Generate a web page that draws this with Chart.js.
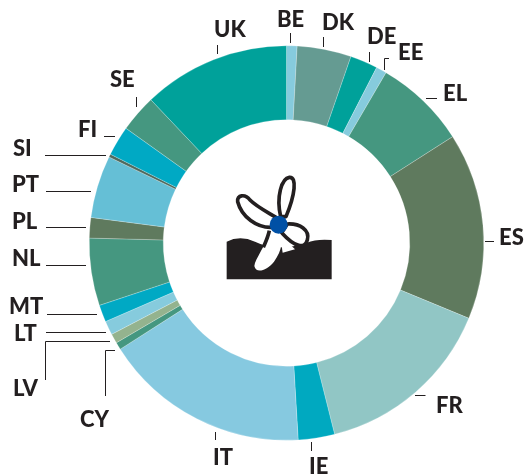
<!DOCTYPE html>
<html>
<head>
<meta charset="utf-8">
<style>html,body{margin:0;padding:0;background:#fff}canvas{display:block}</style>
<script src="https://cdn.jsdelivr.net/npm/chart.js@4"></script>
</head>
<body>
<canvas id="c" width="525" height="474"></canvas>
<script>
const countries = ['BE','DK','DE','EE','EL','ES','FR','IE','IT','CY','LV','LT','MT','NL','PL','PT','SI','FI','SE','UK'];
const shares = [0.86,4.42,2.25,0.86,7.5,15.25,14.8,2.97,16.85,0.6,0.78,1.14,1.39,5.5,1.67,5.1,0.25,2.43,3.05,12.03];
const colours = ['#86cbdd','#659b92','#00a19a','#86cbdd','#459780','#5f7a5e','#91c6c5','#00a9c0','#86c9e0','#459780','#94b38e','#86cbdd','#00a9c4','#459780','#5f7a5e','#65bfd6','#4f6a5e','#00a9c4','#459780','#00a19a'];

const labelSpots = [['BE',277,27],['DK',322,30],['DE',367,44],['EE',398,60],['EL',443,101],['ES',499,245],['FR',436,413],['IE',309,474],['IT',213,465],['CY',80,427],['LV',13,396],['LT',14,341],['MT',9,314],['NL',12,266],['PL',12,229],['PT',12,192],['SI',13,156],['FI',78,137],['SE',110,87],['UK',214,37]];
const leaders = [
 [[290.5,33],[290.5,43]],[[323.5,37],[323.5,47]],[[369.5,52],[369.5,62]],[[389,58.5],[384.5,58.5],[384.5,70]],
 [[426,98.5],[437,98.5]],[[485,241.5],[494,241.5]],[[415,395.5],[425.5,395.5]],[[311.5,442],[311.5,451]],
 [[215.5,432],[215.5,440]],[[105.5,396],[105.5,350.5],[115,350.5]],[[45.5,380],[45.5,341.5],[110,341.5]],[[46,332.5],[106,332.5]],
 [[47,314.5],[97,314.5]],[[46,265.5],[86,265.5]],[[46,227.5],[86,227.5]],[[46,191.5],[91,191.5]],[[45,155.5],[106,155.5]],
 [[104,136.5],[115,136.5]],[[136.5,97],[136.5,107]],[[217.5,45],[217.5,54]]
];

const annotations = {
  id: 'annotations',
  afterDraw(chart) {
    const ctx = chart.ctx;
    ctx.save();
    ctx.strokeStyle = '#231f20';
    ctx.lineWidth = 1;
    leaders.forEach(pts => {
      ctx.beginPath();
      pts.forEach((p, i) => i ? ctx.lineTo(p[0], p[1]) : ctx.moveTo(p[0], p[1]));
      ctx.stroke();
    });
    ctx.fillStyle = '#231f20';
    ctx.font = '900 22px Lato';
    ctx.textBaseline = 'alphabetic';
    labelSpots.forEach(s => ctx.fillText(s[0], s[1], s[2]));

    // turbine icon
    ctx.translate(200, 160);
    ctx.scale(1 / 3, 1 / 3);
    ctx.fillStyle = '#231f20';
    ctx.beginPath();
    ctx.moveTo(80, 358); ctx.lineTo(80, 245);
    ctx.quadraticCurveTo(120, 225, 165, 245);
    ctx.quadraticCurveTo(200, 262, 240, 262);
    ctx.quadraticCurveTo(280, 262, 320, 248);
    ctx.quadraticCurveTo(350, 236, 395, 240);
    ctx.lineTo(395, 358); ctx.closePath(); ctx.fill();
    ctx.lineWidth = 11;
    ctx.strokeStyle = '#231f20';
    ctx.fillStyle = '#fff';
    ctx.lineJoin = 'round';
    const blade = f => { ctx.beginPath(); f(); ctx.closePath(); ctx.fill(); ctx.stroke(); };
    blade(() => { ctx.moveTo(242, 170); ctx.bezierCurveTo(228, 110, 245, 55, 268, 52); ctx.bezierCurveTo(292, 50, 285, 105, 258, 170); });
    blade(() => { ctx.moveTo(218, 202); ctx.bezierCurveTo(170, 205, 125, 170, 113, 125); ctx.bezierCurveTo(110, 105, 135, 100, 150, 120); ctx.bezierCurveTo(170, 140, 200, 155, 228, 172); });
    ctx.beginPath(); ctx.moveTo(240, 225); ctx.lineTo(248, 278); ctx.lineTo(285, 268); ctx.closePath(); ctx.fill();
    blade(() => { ctx.moveTo(262, 192); ctx.bezierCurveTo(300, 190, 330, 210, 322, 240); ctx.bezierCurveTo(315, 268, 285, 262, 245, 218); });
    ctx.beginPath(); ctx.moveTo(208, 210); ctx.bezierCurveTo(198, 260, 165, 295, 163, 318);
    ctx.bezierCurveTo(168, 342, 200, 332, 222, 305); ctx.bezierCurveTo(248, 270, 248, 240, 240, 220); ctx.closePath(); ctx.fill();
    ctx.beginPath(); ctx.moveTo(208, 212); ctx.bezierCurveTo(204, 232, 196, 248, 190, 262); ctx.stroke();
    ctx.fillStyle = '#0050a5';
    ctx.beginPath(); ctx.arc(236, 194, 27, 0, Math.PI * 2); ctx.fill();
    ctx.restore();
  }
};

new Chart(document.getElementById('c'), {
  type: 'doughnut',
  data: { labels: countries, datasets: [{ data: shares, backgroundColor: colours, borderColor: 'rgba(255,255,255,0.45)', borderWidth: 0.5, hoverOffset: 0 }] },
  options: {
    responsive: false,
    animation: false,
    cutout: '62.5%',
    rotation: 0,
    layout: { padding: { left: 89, right: 41, top: 45.5, bottom: 33.5 } },
    plugins: { legend: { display: false }, tooltip: { enabled: false } }
  },
  plugins: [annotations]
});
</script>
</body>
</html>
